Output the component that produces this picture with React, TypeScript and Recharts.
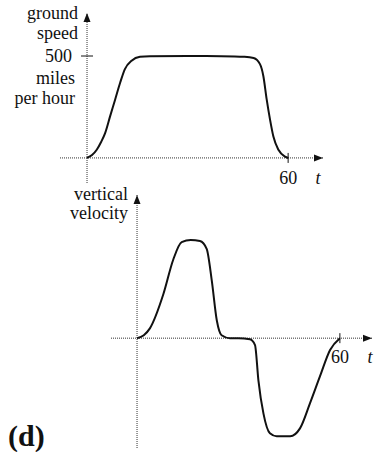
import { LineChart, Line, XAxis, YAxis, ReferenceLine, ReferenceDot } from 'recharts'

// top panel: ground speed (mph) against t (minutes)
const speedT = [0, 1.5, 2.9, 4.2, 5.4, 6.9, 8.4, 9.9, 11.3, 13.3, 15.8, 18.8, 30, 40, 47, 49.7, 51.6, 52.6, 53.6, 54.6, 55.6, 57.1, 59.1, 60]
const speedV = [0, 14, 40, 78, 122, 205, 287, 370, 436, 477, 496, 499, 500, 499, 496, 490, 460, 402, 287, 188, 105, 40, 6, 0]

// bottom panel: vertical velocity (no units shown)
const velT = [0, 2, 3.8, 7.8, 10.7, 13.2, 15.9, 18.6, 20.6, 22.1, 23.6, 25, 27.5, 30, 33.4, 34.9, 35.9, 37.4, 39.3, 41.3, 43.3, 45.3, 48.2, 51.2, 54.1, 57.1, 60]
const velV = [0, 3, 10, 45, 80, 98, 100, 99, 91, 59, 18, 3, 0, 0, -1, -7, -43, -77, -97, -100, -100, -100, -92, -66, -39, -12, 0]

const speedTicks = [500]
const timeTicks = [60]
const speedTitle = ['ground', 'speed']
const speedUnits = ['miles', 'per hour']
const velTitle = ['vertical', 'velocity']

const speedData = speedT.map((t, i) => ({ t, v: speedV[i] }))
const velData = velT.map((t, i) => ({ t, v: velV[i] }))

const FONT = '"Liberation Serif", "Times New Roman", serif'
const AXIS = { stroke: '#333', strokeWidth: 1, strokeDasharray: '1 1' }

const arrowRight = ({ cx, cy }: any) => (
  <polygon points={`${cx},${cy} ${cx - 9},${cy - 3.5} ${cx - 9},${cy + 3.5}`} fill="#111" />
)
const arrowUp = ({ cx, cy }: any) => (
  <polygon points={`${cx},${cy} ${cx - 3.5},${cy + 9} ${cx + 3.5},${cy + 9}`} fill="#111" />
)

function textLines(lines: string[], x: number, y: number, step: number) {
  return lines.map((s, i) => (
    <text key={s} x={x} y={y + i * step} textAnchor="end" fontFamily={FONT} fontSize={18} fill="#111">
      {s}
    </text>
  ))
}

export default function App() {
  const tMax1 = 70.4
  const vMax1 = 711
  const tMax2 = 69.5
  const vMax2 = 146

  return (
    <div style={{ position: 'absolute', left: 0, top: 0, width: 376, height: 452, background: '#fff' }}>
      <div style={{ position: 'absolute', left: 0, top: 0 }}>
        <LineChart width={376} height={200} data={speedData} margin={{ top: 13, right: 53, bottom: 17, left: 60 }}>
          <XAxis type="number" dataKey="t" domain={[-8.06, tMax1]} hide allowDataOverflow />
          <YAxis type="number" domain={[-123, vMax1]} hide allowDataOverflow />
          <ReferenceLine y={0} {...AXIS} />
          <ReferenceLine x={0} {...AXIS} />
          <ReferenceDot x={tMax1} y={0} r={1} ifOverflow="visible" shape={(p: any) => (
            <g>
              {arrowRight(p)}
              <text x={p.cx - 5} y={p.cy + 26} textAnchor="middle" fontFamily={FONT} fontStyle="italic" fontSize={18} fill="#111">t</text>
            </g>
          )} />
          <ReferenceDot x={0} y={vMax1} r={1} ifOverflow="visible" shape={(p: any) => (
            <g>
              {arrowUp(p)}
              {textLines(speedTitle, p.cx - 9, p.cy + 6, 20)}
            </g>
          )} />
          {speedTicks.map((v) => (
            <ReferenceDot key={v} x={0} y={v} r={1} ifOverflow="visible" shape={(p: any) => (
              <g>
                <line x1={p.cx - 6} x2={p.cx + 6} y1={p.cy} y2={p.cy} stroke="#111" strokeWidth={1} />
                <text x={p.cx - 15} y={p.cy + 6} textAnchor="end" fontFamily={FONT} fontSize={18} fill="#111">{v}</text>
                {textLines(speedUnits, p.cx - 12, p.cy + 28, 20)}
              </g>
            )} />
          ))}
          {timeTicks.map((t) => (
            <ReferenceDot key={t} x={t} y={0} r={1} ifOverflow="visible" shape={(p: any) => (
              <g>
                <line x1={p.cx} x2={p.cx} y1={p.cy - 5} y2={p.cy + 5} stroke="#111" strokeWidth={1} />
                <text x={p.cx} y={p.cy + 26} textAnchor="middle" fontFamily={FONT} fontSize={18} fill="#111">{t}</text>
              </g>
            )} />
          ))}
          <Line type="monotone" dataKey="v" stroke="#111" strokeWidth={2} dot={false} isAnimationActive={false} />
        </LineChart>
      </div>

      <div style={{ position: 'absolute', left: 0, top: 180 }}>
        <LineChart width={376} height={272} data={velData} margin={{ top: 15, right: 4, bottom: 4, left: 111 }}>
          <XAxis type="number" dataKey="t" domain={[-7.7, tMax2]} hide allowDataOverflow />
          <YAxis type="number" domain={[-112, vMax2]} hide allowDataOverflow />
          <ReferenceLine y={0} {...AXIS} />
          <ReferenceLine x={0} {...AXIS} />
          <ReferenceDot x={tMax2} y={0} r={1} ifOverflow="visible" shape={(p: any) => (
            <g>
              {arrowRight(p)}
              <text x={p.cx - 2} y={p.cy + 25} textAnchor="middle" fontFamily={FONT} fontStyle="italic" fontSize={18} fill="#111">t</text>
            </g>
          )} />
          <ReferenceDot x={0} y={vMax2} r={1} ifOverflow="visible" shape={(p: any) => (
            <g>
              {arrowUp(p)}
              {textLines(velTitle, p.cx - 9, p.cy + 5, 19)}
            </g>
          )} />
          {timeTicks.map((t) => (
            <ReferenceDot key={t} x={t} y={0} r={1} ifOverflow="visible" shape={(p: any) => (
              <g>
                <line x1={p.cx} x2={p.cx} y1={p.cy - 5} y2={p.cy + 5} stroke="#111" strokeWidth={1} />
                <text x={p.cx} y={p.cy + 25} textAnchor="middle" fontFamily={FONT} fontSize={18} fill="#111">{t}</text>
              </g>
            )} />
          ))}
          <Line type="monotone" dataKey="v" stroke="#111" strokeWidth={2} dot={false} isAnimationActive={false} />
        </LineChart>
      </div>

      <div style={{ position: 'absolute', left: 8, top: 421, fontFamily: FONT, fontWeight: 'bold', fontSize: 30, lineHeight: '30px', color: '#111' }}>
        (d)
      </div>
    </div>
  )
}
